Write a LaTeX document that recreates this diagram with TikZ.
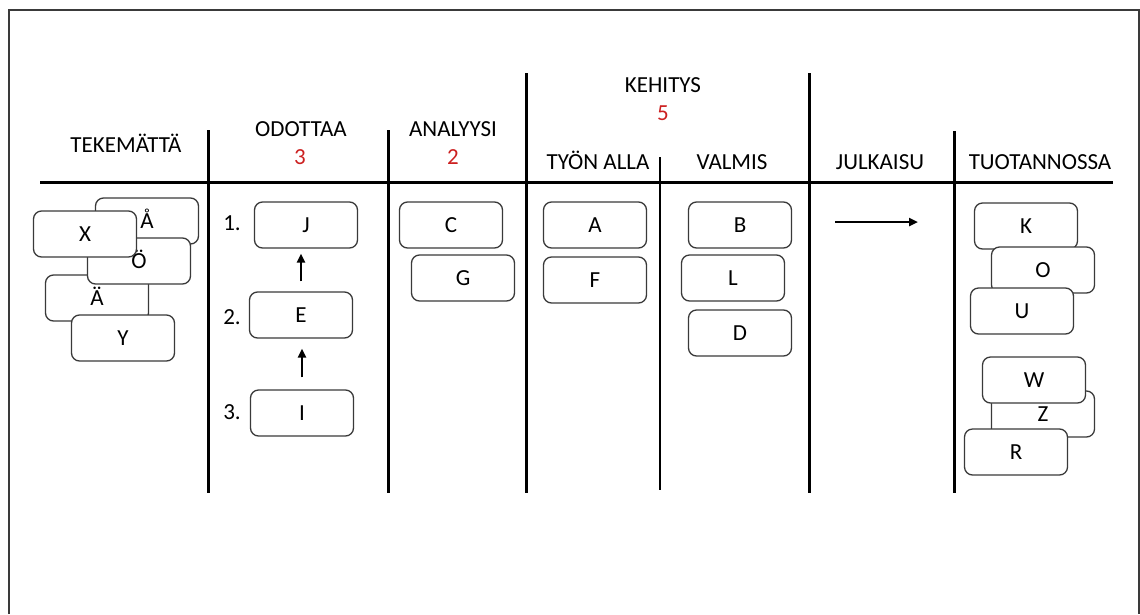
\documentclass[tikz,border=0pt]{standalone}
\usepackage{fontspec}
\setmainfont{Carlito}
\usetikzlibrary{positioning,arrows.meta}
\definecolor{limitred}{RGB}{204,32,32}
\definecolor{cardgray}{RGB}{58,58,58}

\begin{document}
\begin{tikzpicture}[>={Triangle[length=9pt,width=8pt]}, x=1pt, y=-1pt, font=\fontsize{23}{27}\selectfont,
    card/.style={draw=cardgray, fill=white, line width=1.3pt, rounded corners=8pt,
      minimum width=103pt, minimum height=46pt, inner sep=0pt, text height=15pt, text depth=0pt},
    label/.style={text height=15pt, text depth=0pt, inner sep=0pt},
    limit/.style={label, text=limitred},
    divider/.style={line width=3pt},
    flow/.style={->, line width=2.6pt}]
    \useasboundingbox (0,0) rectangle (1140,614);
    \draw[cardgray, line width=1.3pt] (9,614) -- (9,10) -- (1139,10) -- (1139,614);

    % board
    \draw[divider] (40,182) -- (1113,182);
    \foreach \x/\top in {208/130, 388/130, 526/73, 809/73, 954/131}
      \draw[divider] (\x,\top) -- (\x,493);
    \draw[line width=2pt] (660,157) -- (660,490);

    % headers
    \node[label] (todo) at (126,145) {TEKEMÄTTÄ};
    \node[label] (wait) at (301,129) {ODOTTAA};
    \node[limit] (waitlim) at (300,157) {3};
    \node[label] (anal) at (453,129) {ANALYYSI};
    \node[limit] (anallim) at (453,157) {2};
    \node[label] (dev) at (663,85) {KEHITYS};
    \node[limit] (devlim) at (663,113) {5};
    \node[label] (doing) at (598,162) {TYÖN ALLA};
    \node[label] (done) at (732,162) {VALMIS};
    \node[label] (rel) at (880,162) {JULKAISU};
    \node[label] (prod) at (1040,162) {TUOTANNOSSA};

    % tekemättä
    \node[card] (Ae) at (97,298) {Ä};
    \node[card] (Ao) at (147,221) {Å};
    \node[card] (Oe) at (139,261) {Ö};
    \node[card] (X) at (85,234) {X};
    \node[card] (Y) at (123,338) {Y};

    % odottaa
    \node[card] (J) at (306,225) {J};
    \node[card] (E) at (301,315) {E};
    \node[card] (I) at (302,413) {I};
    \node[label] (n1) at (232,223) {1.};
    \node[label] (n2) at (232,317) {2.};
    \node[label] (n3) at (232,412) {3.};
    \draw[flow, shorten <=10pt, shorten >=5pt] (E.north) -- (E.north |- J.south);
    \draw[flow, shorten <=12pt, shorten >=10pt] (I.north) -- (I.north |- E.south);

    % analyysi
    \node[card] (C) at (451,225) {C};
    \node[card] (G) at (463,278) {G};

    % kehitys
    \node[card] (A) at (595,225) {A};
    \node[card] (F) at (595,280) {F};
    \node[card] (B) at (740,225) {B};
    \node[card] (L) at (733,278) {L};
    \node[card] (D) at (740,333) {D};

    % julkaisu
    \coordinate (relstart) at (835,222);
    \coordinate (relend) at (918,222);
    \draw[flow] (relstart) -- (relend);

    % tuotannossa
    \node[card] (K) at (1026,226) {K};
    \node[card] (O) at (1043,270) {O};
    \node[card] (U) at (1022,311) {U};
    \node[card] (Z) at (1043,414) {Z};
    \node[card] (W) at (1034,380) {W};
    \node[card] (R) at (1016,452) {R};
\end{tikzpicture}
\end{document}
